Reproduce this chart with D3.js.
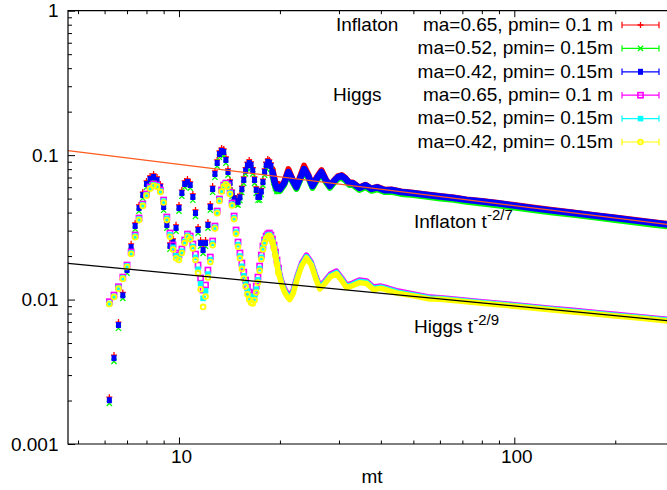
<!DOCTYPE html>
<html><head><meta charset="utf-8">
<script src="https://cdn.jsdelivr.net/npm/d3@7"></script>
<style>
body{margin:0;background:#fff}
svg text{font-family:"Liberation Sans",Arial,Helvetica,sans-serif}
</style></head>
<body><svg id="chart" width="667" height="490"></svg>
<script>
// ---------------- data ----------------
const tEarly = [6.2,6.4,6.6,6.8,7.0,7.2,7.4,7.6,7.8,8.0,8.2,8.4,8.6,8.8,9.0,9.2,9.4,9.6,9.8,10.0,
  10.2,10.4,10.6,10.8,11.0,11.2,11.4,11.6,11.8,12.0,12.2,12.4,12.6,12.8,13.0,13.2,13.4,13.6,13.8,14.0,
  14.2,14.4,14.6,14.8,15.0,15.2,15.4,15.6,15.8,16.0,16.2,16.4,16.6,16.8,17.0,17.2,17.4,17.6,17.8,18.0,
  18.2,18.4,18.6,18.8,19.0,19.2,19.4,19.6,19.8];

const inflRedEarly = [0.00211,0.00413,0.00699,0.0112,0.0168,0.0243,0.0339,0.0452,0.0555,0.0663,0.0717,0.0740,0.0706,0.0631,0.0459,0.0344,0.0247,0.0263,0.0329,0.0452,
  0.0573,0.0663,0.0684,0.0652,0.0539,0.0417,0.0318,0.0258,0.0231,0.0258,0.0344,0.0459,0.0611,0.0777,0.0926,0.1069,0.1120,0.1104,0.0971,0.0802,
  0.0673,0.0573,0.0525,0.0504,0.0499,0.0536,0.0609,0.0706,0.0819,0.0893,0.0926,0.0897,0.0819,0.0706,0.0602,0.0539,0.0539,0.0588,0.0683,0.0802,
  0.0893,0.0941,0.0926,0.0882,0.0802,0.0714,0.0651,0.0620,0.0630];
const inflGreenEarly = [0.00191,0.00373,0.00633,0.0102,0.0152,0.0219,0.0307,0.0409,0.0503,0.0599,0.0649,0.0670,0.0638,0.0571,0.0415,0.0312,0.0223,0.0238,0.0297,0.0409,
  0.0519,0.0599,0.0618,0.0590,0.0487,0.0377,0.0288,0.0234,0.0209,0.0234,0.0312,0.0415,0.0553,0.0703,0.0838,0.0967,0.1014,0.0998,0.0879,0.0726,
  0.0609,0.0519,0.0475,0.0456,0.0451,0.0485,0.0551,0.0638,0.0741,0.0808,0.0838,0.0811,0.0741,0.0638,0.0544,0.0487,0.0487,0.0532,0.0618,0.0726,
  0.0808,0.0851,0.0838,0.0798,0.0726,0.0646,0.0589,0.0561,0.0570];
const inflBlueEarly = [0.00201,0.00393,0.00666,0.0107,0.0160,0.0231,0.0323,0.0430,0.0529,0.0631,0.0683,0.0705,0.0672,0.0601,0.0437,0.0328,0.0235,0.0250,0.0313,0.0430,
  0.0546,0.0631,0.0651,0.0621,0.0513,0.0397,0.0303,0.0246,0.0220,0.0246,0.0328,0.0437,0.0582,0.0740,0.0882,0.1018,0.1067,0.1051,0.0925,0.0764,
  0.0641,0.0546,0.0500,0.0480,0.0475,0.0510,0.0580,0.0672,0.0780,0.0850,0.0882,0.0854,0.0780,0.0672,0.0573,0.0513,0.0513,0.0560,0.0650,0.0764,
  0.0850,0.0896,0.0882,0.0840,0.0764,0.0680,0.0620,0.0590,0.0600];

const higgsMagEarly = [0.00966,0.01074,0.01227,0.01431,0.01733,0.02133,0.02797,0.03667,0.04585,0.05378,0.06012,0.06306,0.06206,0.05732,0.04887,0.03727,0.02888,0.02385,0.02099,0.02033,
  0.02237,0.02583,0.02842,0.02753,0.02423,0.02065,0.01733,0.01409,0.01164,0.01260,0.01600,0.01969,0.02542,0.03228,0.04101,0.04966,0.05732,0.06206,0.06406,0.06206,
  0.05553,0.04660,0.03786,0.03030,0.02501,0.02099,0.01790,0.01550,0.01365,0.01221,0.01127,0.01074,0.01057,0.01109,0.01240,0.01431,0.01706,0.02033,0.02347,0.02583,
  0.02753,0.02842,0.02888,0.02797,0.02624,0.02385,0.02133,0.01877,0.01652];
const higgsCyanEarly = [0.0094,0.0105,0.0121,0.0141,0.0171,0.0210,0.0275,0.0361,0.0452,0.0531,0.0593,0.0622,0.0612,0.0564,0.0480,0.0365,0.0281,0.0230,0.0201,0.0195,
  0.0216,0.0252,0.0278,0.0268,0.0233,0.0196,0.0162,0.0129,0.0102,0.0115,0.0150,0.0189,0.0245,0.0316,0.0403,0.0489,0.0566,0.0613,0.0632,0.0612,
  0.0546,0.0456,0.0368,0.0293,0.0240,0.0200,0.0170,0.0146,0.0129,0.0115,0.0106,0.0101,0.0100,0.0105,0.0118,0.0137,0.0164,0.0196,0.0228,0.0252,
  0.0268,0.0278,0.0282,0.0273,0.0256,0.0232,0.0207,0.0181,0.0160];
const higgsYellowEarly = [0.0093,0.0104,0.0119,0.0139,0.0168,0.0207,0.0270,0.0355,0.0445,0.0524,0.0585,0.0613,0.0603,0.0555,0.0470,0.0355,0.0272,0.0222,0.0193,0.0188,
  0.0210,0.0246,0.0272,0.0262,0.0226,0.0188,0.0153,0.0118,0.0089,0.0105,0.0142,0.0182,0.0238,0.0310,0.0396,0.0482,0.0560,0.0607,0.0625,0.0605,
  0.0538,0.0448,0.0360,0.0285,0.0232,0.0193,0.0163,0.0140,0.0123,0.0109,0.0100,0.0095,0.0094,0.0099,0.0112,0.0131,0.0158,0.0190,0.0222,0.0246,
  0.0263,0.0272,0.0276,0.0268,0.0250,0.0226,0.0200,0.0175,0.0153];

// late-time (dense, merged) parts
const inflLateT = [20.0,20.6,21.2,21.8,22.4,23.0,23.6,24.3,25.0,25.8,26.6,27.4,28.2,29.0,29.8,30.6,31.3,32.2,33.0,34.5,
  36,37.5,39,41,43,46,50,55,60,66,72,80,90,100,115,130,150,175,200,230,260,290];
const inflBlueLate = [0.0582,0.0641,0.0764,0.0672,0.0601,0.0694,0.0801,0.0717,0.0611,0.0694,0.0764,0.0672,0.0611,0.0662,0.0705,0.0717,0.0690,0.0640,0.0640,0.0592,
  0.0618,0.0583,0.0598,0.0572,0.0574,0.0556,0.0545,0.0530,0.0517,0.0505,0.0490,0.0477,0.0462,0.0447,0.0428,0.0413,0.0398,0.0381,0.0367,0.0352,0.0340,0.0330];
const inflRedLate = [0.0592,0.0655,0.0800,0.0684,0.0608,0.0715,0.0845,0.0735,0.0618,0.0708,0.0788,0.0682,0.0617,0.0670,0.0715,0.0728,0.0698,0.0646,0.0646,0.0597,
  0.0624,0.0588,0.0603,0.0577,0.0579,0.0561,0.0549,0.0534,0.0521,0.0509,0.0494,0.0481,0.0466,0.0451,0.0432,0.0417,0.0401,0.0384,0.0370,0.0355,0.0343,0.0333];
const inflGreenLate = [0.0565,0.0622,0.0741,0.0652,0.0583,0.0673,0.0777,0.0695,0.0593,0.0673,0.0741,0.0652,0.0593,0.0642,0.0684,0.0695,0.0669,0.0621,0.0621,0.0574,
  0.0599,0.0566,0.0580,0.0555,0.0557,0.0539,0.0529,0.0514,0.0501,0.0490,0.0475,0.0463,0.0448,0.0434,0.0415,0.0401,0.0386,0.0370,0.0356,0.0341,0.0330,0.0320];

const higgsLateT = [20.2,20.6,21.0,21.4,21.9,22.5,23.2,24.0,24.8,25.6,26.3,27.2,28.3,29.5,30.6,31.6,33.0,34.5,36.3,38.0,
  40.0,42.0,45.0,50.0,56,60,66,72,80,90,100,115,130,150,175,200,230,260,290];
const higgsMagLate = [0.01365,0.01202,0.01109,0.01057,0.01164,0.01454,0.01790,0.02033,0.01818,0.01454,0.01240,0.01343,0.01502,0.01575,0.01409,0.01260,0.01301,0.01365,0.01343,0.01221,
  0.01240,0.01202,0.01145,0.01092,0.01040,0.01030,0.01008,0.00990,0.00967,0.00943,0.00921,0.00893,0.00869,0.00842,0.00814,0.00790,0.00766,0.00746,0.00728];
const higgsCyanLate = [0.01330,0.01170,0.01078,0.01028,0.01132,0.01417,0.01747,0.01986,0.01779,0.01422,0.01212,0.01314,0.01471,0.01542,0.01380,0.01235,0.01276,0.01338,0.01317,0.01198,
  0.01218,0.01181,0.01125,0.01076,0.01025,0.01018,0.00997,0.00978,0.00955,0.00931,0.00910,0.00882,0.00858,0.00831,0.00804,0.00780,0.00756,0.00736,0.00718];
const higgsYellowLate = [0.01300,0.01140,0.01050,0.01000,0.01100,0.01380,0.01705,0.01940,0.01740,0.01390,0.01185,0.01285,0.01440,0.01510,0.01350,0.01210,0.01250,0.01310,0.01290,0.01175,
  0.01195,0.01160,0.01105,0.01060,0.01010,0.01005,0.00985,0.00966,0.00944,0.00920,0.00899,0.00871,0.00848,0.00821,0.00794,0.00770,0.00747,0.00727,0.00709];

// power-law guide lines: amplitude, exponent
const inflatonFit = [0.1667, -2/7];
const higgsFit = [0.0251, -2/9];

const legendLabels = ["ma=0.65, pmin= 0.1 m","ma=0.52, pmin= 0.15m","ma=0.42, pmin= 0.15m",
                      "ma=0.65, pmin= 0.1 m","ma=0.52, pmin= 0.15m","ma=0.42, pmin= 0.15m"];
const groupTitles = ["Inflaton","Higgs"];
const xMajor = [10,100];
const xMinor = [5,6,7,8,9,20,30,40,50,60,70,80,90,200];
const yMajor = [0.001,0.01,0.1,1];
const yMinor = [];
[0.001,0.01,0.1].forEach(d=>{for(let k=2;k<=9;k++) yMinor.push(d*k);});

// ---------------- drawing ----------------
const svg = d3.select("#chart");
const L = 68, R = 668, T = 10.7, B = 444;
const x = d3.scaleLog().domain([4.667, 287.3]).range([L, R]);
const y = d3.scaleLog().domain([0.001, 1]).range([B, T]);
const FONT = 19;

const plot = svg.append("g");
svg.append("defs").append("clipPath").attr("id","clip")
  .append("rect").attr("x",L).attr("y",T).attr("width",R-L).attr("height",B-T);

function axisGroup(axis, tx, ty){
  const g = svg.append("g").attr("transform",`translate(${tx},${ty})`).call(axis);
  g.select(".domain").remove();
  g.selectAll("line").attr("stroke","#000").attr("stroke-width",1);
  g.selectAll("text").attr("font-size",FONT).attr("fill","#000")
    .attr("font-family",'"Liberation Sans",Arial,sans-serif');
  return g;
}
const fmtY = d => ({0.001:"0.001",0.01:"0.01",0.1:"0.1",1:"1"})[d];
axisGroup(d3.axisBottom(x).tickValues(xMajor).tickSize(-6.5).tickPadding(6).tickFormat(d=>String(d)), 0, B)
  .selectAll("text").attr("dx", 2);
axisGroup(d3.axisBottom(x).tickValues(xMinor).tickSize(-3.5).tickFormat(""), 0, B);
axisGroup(d3.axisTop(x).tickValues(xMajor).tickSize(-6.5).tickFormat(""), 0, T);
axisGroup(d3.axisTop(x).tickValues(xMinor).tickSize(-3.5).tickFormat(""), 0, T);
axisGroup(d3.axisLeft(y).tickValues(yMajor).tickSize(-7).tickPadding(9.5).tickFormat(fmtY), L, 0);
axisGroup(d3.axisLeft(y).tickValues(yMinor).tickSize(-4).tickFormat(""), L, 0);

svg.append("path")
  .attr("d", `M${R},${T}H${L}V${B}H${R}`)
  .attr("fill","none").attr("stroke","#000").attr("stroke-width",1.2);

svg.append("text").attr("x",372).attr("y",483).attr("text-anchor","middle")
  .attr("font-size",FONT).text("mt");

const markers = {
  plus:  (g,c)=>g.append("path").attr("d","M-3,0H3M0,-3V3").attr("stroke",c).attr("stroke-width",1.3).attr("fill","none"),
  cross: (g,c)=>g.append("path").attr("d","M-2.6,-2.6L2.6,2.6M-2.6,2.6L2.6,-2.6").attr("stroke",c).attr("stroke-width",1.3).attr("fill","none"),
  fsqS:  (g,c)=>g.append("rect").attr("x",-2.5).attr("y",-3).attr("width",5).attr("height",6).attr("fill",c),
  osq:   (g,c)=>g.append("rect").attr("x",-2.6).attr("y",-2.6).attr("width",5.2).attr("height",5.2).attr("fill","none").attr("stroke",c).attr("stroke-width",1.6),
  fsq:   (g,c)=>g.append("rect").attr("x",-2.8).attr("y",-2.8).attr("width",5.6).attr("height",5.6).attr("fill",c),
  ocirc: (g,c)=>g.append("circle").attr("r",2.4).attr("fill","none").attr("stroke",c).attr("stroke-width",1.8)
};

const series = [
  {early: inflRedEarly,   lateT: inflLateT,  late: inflRedLate,    color:"#ff0000", m:"plus",  w:6},
  {early: inflGreenEarly, lateT: inflLateT,  late: inflGreenLate,  color:"#00ff00", m:"cross", w:6},
  {early: inflBlueEarly,  lateT: inflLateT,  late: inflBlueLate,   color:"#0000ff", m:"fsqS",  w:6.5},
  {early: higgsMagEarly,  lateT: higgsLateT, late: higgsMagLate,   color:"#ff00ff", m:"osq",   w:5.5},
  {early: higgsCyanEarly, lateT: higgsLateT, late: higgsCyanLate,  color:"#00ffff", m:"fsq",   w:5.5},
  {early: higgsYellowEarly,lateT: higgsLateT,late: higgsYellowLate,color:"#ffff00", m:"ocirc", w:5.5}
];

const clipG = plot.append("g").attr("clip-path","url(#clip)");
const line = d3.line().x(d=>x(d[0])).y(d=>y(d[1]));

series.forEach(s=>{
  const g = clipG.append("g");
  const early = tEarly.map((t,i)=>[t, s.early[i]]);
  const late = s.lateT.map((t,i)=>[t, s.late[i]]);
  const band = early.filter(d=>d[0]>=19.0).concat(late);
  g.append("path").datum(band).attr("d",line).attr("fill","none")
    .attr("stroke",s.color).attr("stroke-width",s.w).attr("stroke-linejoin","round").attr("stroke-linecap","round");
  early.forEach(d=>{
    const mg = g.append("g").attr("transform",`translate(${x(d[0])},${y(d[1])})`);
    markers[s.m](mg, s.color);
  });
});

function fitLine(p, color){
  const pts = [x.domain()[0], x.domain()[1]].map(t=>[t, p[0]*Math.pow(t,p[1])]);
  clipG.append("path").datum(pts).attr("d",line).attr("fill","none")
    .attr("stroke",color).attr("stroke-width",1.3);
}
fitLine(inflatonFit, "#ff5a1e");
fitLine(higgsFit, "#000000");

function supLabel(xp, yp, main, sup){
  const t = svg.append("text").attr("x",xp).attr("y",yp).attr("font-size",FONT);
  t.append("tspan").text(main);
  t.append("tspan").attr("dy",-8).attr("font-size",15).text(sup);
}
supLabel(414, 228, "Inflaton t", "-2/7");
supLabel(414, 333, "Higgs t", "-2/9");

const lg = svg.append("g");
const rowY = i => 24 + 23.4*i;
lg.append("text").attr("x",336).attr("y",rowY(0)+6.8).attr("font-size",FONT).text(groupTitles[0]);
lg.append("text").attr("x",333).attr("y",rowY(3)+6.8).attr("font-size",FONT).text(groupTitles[1]);
legendLabels.forEach((lab,i)=>{
  const yy = rowY(i);
  lg.append("text").attr("x",613).attr("y",yy+6.8).attr("text-anchor","end").attr("font-size",FONT).text(lab);
  const c = series[i].color;
  lg.append("path").attr("d",`M622,${yy+1}H659M622,${yy-2.2}V${yy+4.2}M659,${yy-2.2}V${yy+4.2}`)
    .attr("stroke",c).attr("stroke-width",1.2).attr("fill","none");
  const mg = lg.append("g").attr("transform",`translate(640.5,${yy+1})`);
  markers[series[i].m](mg, c);
});
</script>
</body></html>
